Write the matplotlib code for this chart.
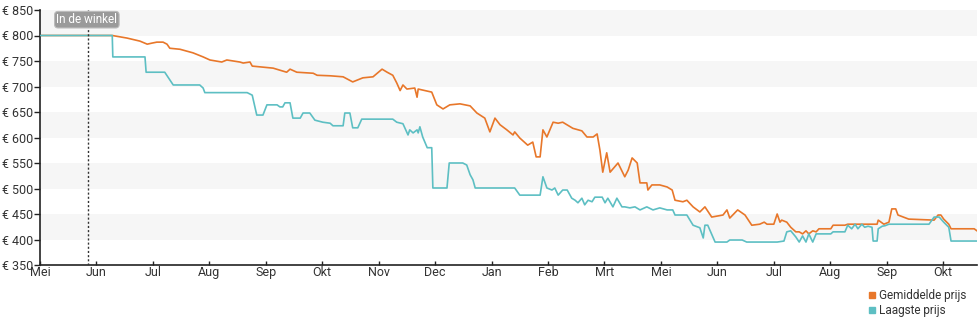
import matplotlib
matplotlib.use('Agg')
import matplotlib.pyplot as plt
from matplotlib.lines import Line2D

plt.rcParams['font.family'] = ['Roboto', 'DejaVu Sans']

# x positions are in months since the first "Mei" tick
maand_labels = ['Mei', 'Jun', 'Jul', 'Aug', 'Sep', 'Okt', 'Nov', 'Dec', 'Jan',
                'Feb', 'Mrt', 'Mei', 'Jun', 'Jul', 'Aug', 'Sep', 'Okt']

gem_x = [0.00, 1.28, 1.54, 1.77, 1.90, 1.98, 2.07, 2.18, 2.25, 2.30, 2.48, 2.71,
         2.89, 3.01, 3.22, 3.31, 3.54, 3.60, 3.72, 3.76, 4.13, 4.37, 4.43, 4.55,
         4.84, 4.91, 5.14, 5.37, 5.54, 5.72, 5.90, 6.06, 6.15, 6.25, 6.32, 6.38,
         6.43, 6.50, 6.64, 6.68, 6.70, 6.94, 7.03, 7.14, 7.26, 7.44, 7.62, 7.74,
         7.88, 7.97, 8.06, 8.15, 8.27, 8.38, 8.41, 8.50, 8.64, 8.73, 8.79, 8.86,
         8.91, 8.98, 9.09, 9.18, 9.26, 9.44, 9.60, 9.69, 9.80, 9.87, 9.92, 9.97,
         10.04, 10.10, 10.24, 10.36, 10.42, 10.49, 10.58, 10.63, 10.75, 10.77,
         10.84, 10.98, 11.11, 11.20, 11.25, 11.39, 11.46, 11.57, 11.69, 11.78,
         11.90, 12.10, 12.17, 12.22, 12.36, 12.49, 12.61, 12.75, 12.83, 12.88,
         13.00, 13.06, 13.11, 13.14, 13.23, 13.30, 13.39, 13.45, 13.51, 13.57,
         13.62, 13.69, 13.75, 13.80, 14.01, 14.05, 14.26, 14.31, 14.83, 14.85,
         14.95, 15.04, 15.09, 15.16, 15.20, 15.39, 15.84, 15.91, 15.96, 16.01,
         16.10, 16.14, 16.55, 16.60]
gem_prijs = [800, 800, 795, 789, 783, 785, 787, 787, 783, 775, 773, 766,
             758, 752, 748, 752, 748, 746, 748, 740, 736, 728, 734, 728,
             726, 722, 721, 719, 709, 717, 719, 734, 728, 722, 707, 692,
             703, 695, 697, 679, 695, 689, 664, 656, 664, 666, 662, 648,
             638, 611, 638, 625, 615, 605, 611, 599, 585, 591, 562, 562,
             615, 601, 630, 628, 630, 618, 613, 601, 601, 607, 575, 532,
             570, 532, 550, 523, 536, 560, 550, 511, 511, 497,
             507, 507, 503, 497, 477, 474, 477, 464, 454, 464,
             444, 448, 458, 442, 458, 448, 428, 430, 434, 430,
             430, 450, 434, 438, 434, 424, 415, 415, 411, 417,
             411, 417, 415, 421, 421, 428, 428, 430, 430, 438,
             430, 434, 460, 460, 448, 440, 438, 448, 448, 440,
             430, 421, 421, 417]

laag_x = [0.00, 1.28, 1.29, 1.86, 1.88, 2.21, 2.36, 2.83, 2.89, 2.92, 3.67, 3.76,
          3.84, 3.95, 4.02, 4.20, 4.25, 4.30, 4.34, 4.43, 4.48, 4.61, 4.66, 4.78,
          4.87, 5.01, 5.14, 5.19, 5.37, 5.40, 5.49, 5.54, 5.63, 5.70, 6.25, 6.32,
          6.43, 6.52, 6.55, 6.61, 6.68, 6.70, 6.73, 6.78, 6.86, 6.94, 6.96, 7.21,
          7.25, 7.49, 7.56, 7.62, 7.67, 7.71, 8.41, 8.50, 8.86, 8.91, 8.98, 9.07,
          9.12, 9.18, 9.26, 9.34, 9.42, 9.48, 9.53, 9.60, 9.65, 9.71, 9.78, 9.83,
          9.96, 10.01, 10.06, 10.15, 10.22, 10.31, 10.36, 10.45, 10.54, 10.63,
          10.75, 10.86, 10.98, 11.11, 11.21, 11.25, 11.46, 11.57, 11.69, 11.75,
          11.78, 11.83, 11.96, 12.17, 12.22, 12.44, 12.52, 13.06, 13.18, 13.23,
          13.30, 13.39, 13.45, 13.51, 13.57, 13.62, 13.69, 13.75, 14.01, 14.05,
          14.26, 14.31, 14.38, 14.44, 14.49, 14.56, 14.61, 14.67, 14.74, 14.76,
          14.83, 14.85, 14.92, 14.97, 15.04, 15.75, 15.84, 15.93, 16.01, 16.10,
          16.14, 16.60]
laag_prijs = [800, 800, 758, 758, 728, 728, 703, 703, 697, 688, 688, 683,
              644, 644, 664, 664, 660, 660, 668, 668, 638, 638, 648, 648,
              634, 630, 628, 623, 623, 648, 648, 619, 619, 636, 636, 630,
              627, 605, 615, 609, 615, 609, 621, 601, 580, 580, 501, 501,
              550, 550, 546, 527, 517, 501, 501, 487, 487, 523, 501, 497,
              501, 487, 497, 497, 481, 477, 472, 481, 468, 477, 474, 483,
              483, 472, 481, 464, 481, 464, 464, 462, 464, 458,
              464, 458, 462, 458, 458, 448, 448, 428, 423, 403,
              428, 428, 395, 395, 399, 399, 395, 395, 397, 415,
              417, 405, 395, 407, 395, 411, 395, 411, 411, 415,
              415, 428, 421, 430, 421, 430, 424, 426, 424, 397,
              397, 421, 426, 427, 430, 430, 444, 444, 434, 424,
              397, 397]

y_ticks = [350, 400, 450, 500, 550, 600, 650, 700, 750, 800, 850]
winkel_x = 0.85

ORANJE = '#e8772a'
TEAL = '#5dbfc3'

fig = plt.figure(figsize=(9.8, 3.25), dpi=100)
ax = fig.add_axes([40 / 980, 1 - 265 / 325, 937 / 980, 255 / 325])

# alternating light bands behind the lines
for lo in range(400, 850, 100):
    ax.axhspan(lo, lo + 50, color='#f6f6f6', zorder=0, lw=0)

ax.plot(gem_x, gem_prijs, color=ORANJE, lw=1.2, zorder=2)
ax.plot(laag_x, laag_prijs, color=TEAL, lw=1.2, zorder=3)

ax.axvline(winkel_x, color='#333333', lw=1, ls=(0, (1.5, 1.5)), zorder=4)
ax.text(winkel_x - 0.02, 831, 'In de winkel', ha='center', va='center', fontsize=8.5,
        color='white', zorder=5,
        bbox=dict(boxstyle='round,pad=0.15,rounding_size=0.3', fc='#9a9a9a',
                  ec='#bbbbbb', lw=0.8))

ax.set_xlim(0, 16.6)
ax.set_ylim(350, 850)
ax.set_yticks(y_ticks)
ax.set_yticklabels([f'€ {v}' for v in y_ticks])
ax.set_xticks(range(len(maand_labels)))
ax.set_xticklabels(maand_labels)

for side in ('top', 'right'):
    ax.spines[side].set_visible(False)
for side in ('left', 'bottom'):
    ax.spines[side].set_color('#222222')
    ax.spines[side].set_linewidth(1.2)

ax.tick_params(axis='y', direction='out', length=4, width=1, color='#222222',
               labelsize=9, labelcolor='#333333', pad=1)
ax.tick_params(axis='x', direction='in', length=3, width=1, color='#222222',
               labelsize=9, labelcolor='#333333', pad=1)

handles = [Line2D([], [], marker='s', ls='', color=ORANJE, markersize=5),
           Line2D([], [], marker='s', ls='', color=TEAL, markersize=5)]
fig.legend(handles, ['Gemiddelde prijs', 'Laagste prijs'],
           loc='lower right', bbox_to_anchor=(0.995, 0.0), frameon=False,
           fontsize=8.5, handlelength=0.6, handletextpad=0.3,
           labelspacing=0.15, borderpad=0.2, labelcolor='#333333')

fig.savefig('out.png', dpi=100)
